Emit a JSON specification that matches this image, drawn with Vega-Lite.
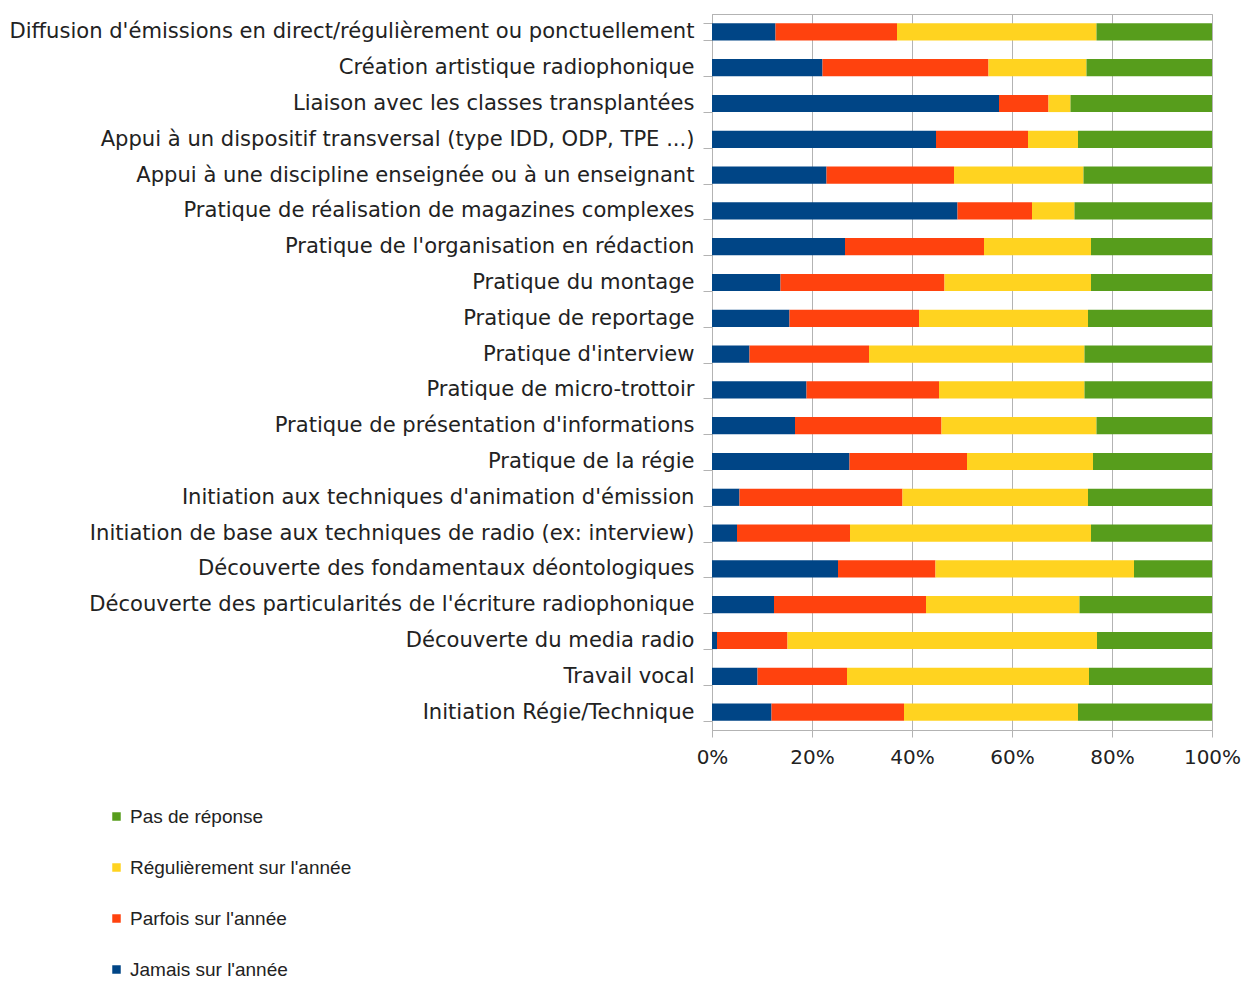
{
  "$schema": "https://vega.github.io/schema/vega-lite/v6.json",
  "autosize": {"type": "none"},
  "padding": {"left": 712, "top": 14, "right": 34, "bottom": 251},
  "width": 500,
  "height": 716,
  "background": "white",
  "config": {
    "view": {"stroke": "#b3b3b3", "strokeWidth": 1},
    "font": "DejaVu Sans"
  },
  "data": {
    "values": [
      {"activite": "Diffusion d'émissions en direct/régulièrement ou ponctuellement", "reponse": "Jamais sur l'année", "part": 12.7},
      {"activite": "Diffusion d'émissions en direct/régulièrement ou ponctuellement", "reponse": "Parfois sur l'année", "part": 24.3},
      {"activite": "Diffusion d'émissions en direct/régulièrement ou ponctuellement", "reponse": "Régulièrement sur l'année", "part": 39.9},
      {"activite": "Diffusion d'émissions en direct/régulièrement ou ponctuellement", "reponse": "Pas de réponse", "part": 23.1},
      {"activite": "Création artistique radiophonique", "reponse": "Jamais sur l'année", "part": 22.1},
      {"activite": "Création artistique radiophonique", "reponse": "Parfois sur l'année", "part": 33.2},
      {"activite": "Création artistique radiophonique", "reponse": "Régulièrement sur l'année", "part": 19.6},
      {"activite": "Création artistique radiophonique", "reponse": "Pas de réponse", "part": 25.1},
      {"activite": "Liaison avec les classes transplantées", "reponse": "Jamais sur l'année", "part": 57.4},
      {"activite": "Liaison avec les classes transplantées", "reponse": "Parfois sur l'année", "part": 9.9},
      {"activite": "Liaison avec les classes transplantées", "reponse": "Régulièrement sur l'année", "part": 4.4},
      {"activite": "Liaison avec les classes transplantées", "reponse": "Pas de réponse", "part": 28.3},
      {"activite": "Appui à un dispositif transversal (type IDD, ODP, TPE ...)", "reponse": "Jamais sur l'année", "part": 44.8},
      {"activite": "Appui à un dispositif transversal (type IDD, ODP, TPE ...)", "reponse": "Parfois sur l'année", "part": 18.4},
      {"activite": "Appui à un dispositif transversal (type IDD, ODP, TPE ...)", "reponse": "Régulièrement sur l'année", "part": 10.0},
      {"activite": "Appui à un dispositif transversal (type IDD, ODP, TPE ...)", "reponse": "Pas de réponse", "part": 26.8},
      {"activite": "Appui à une discipline enseignée ou à un enseignant", "reponse": "Jamais sur l'année", "part": 22.9},
      {"activite": "Appui à une discipline enseignée ou à un enseignant", "reponse": "Parfois sur l'année", "part": 25.5},
      {"activite": "Appui à une discipline enseignée ou à un enseignant", "reponse": "Régulièrement sur l'année", "part": 25.9},
      {"activite": "Appui à une discipline enseignée ou à un enseignant", "reponse": "Pas de réponse", "part": 25.7},
      {"activite": "Pratique de réalisation de magazines complexes", "reponse": "Jamais sur l'année", "part": 49.1},
      {"activite": "Pratique de réalisation de magazines complexes", "reponse": "Parfois sur l'année", "part": 14.9},
      {"activite": "Pratique de réalisation de magazines complexes", "reponse": "Régulièrement sur l'année", "part": 8.5},
      {"activite": "Pratique de réalisation de magazines complexes", "reponse": "Pas de réponse", "part": 27.5},
      {"activite": "Pratique de l'organisation en rédaction", "reponse": "Jamais sur l'année", "part": 26.6},
      {"activite": "Pratique de l'organisation en rédaction", "reponse": "Parfois sur l'année", "part": 27.8},
      {"activite": "Pratique de l'organisation en rédaction", "reponse": "Régulièrement sur l'année", "part": 21.4},
      {"activite": "Pratique de l'organisation en rédaction", "reponse": "Pas de réponse", "part": 24.2},
      {"activite": "Pratique du montage", "reponse": "Jamais sur l'année", "part": 13.7},
      {"activite": "Pratique du montage", "reponse": "Parfois sur l'année", "part": 32.8},
      {"activite": "Pratique du montage", "reponse": "Régulièrement sur l'année", "part": 29.3},
      {"activite": "Pratique du montage", "reponse": "Pas de réponse", "part": 24.2},
      {"activite": "Pratique de reportage", "reponse": "Jamais sur l'année", "part": 15.5},
      {"activite": "Pratique de reportage", "reponse": "Parfois sur l'année", "part": 25.9},
      {"activite": "Pratique de reportage", "reponse": "Régulièrement sur l'année", "part": 33.8},
      {"activite": "Pratique de reportage", "reponse": "Pas de réponse", "part": 24.8},
      {"activite": "Pratique d'interview", "reponse": "Jamais sur l'année", "part": 7.5},
      {"activite": "Pratique d'interview", "reponse": "Parfois sur l'année", "part": 23.9},
      {"activite": "Pratique d'interview", "reponse": "Régulièrement sur l'année", "part": 43.1},
      {"activite": "Pratique d'interview", "reponse": "Pas de réponse", "part": 25.5},
      {"activite": "Pratique de micro-trottoir", "reponse": "Jamais sur l'année", "part": 18.9},
      {"activite": "Pratique de micro-trottoir", "reponse": "Parfois sur l'année", "part": 26.5},
      {"activite": "Pratique de micro-trottoir", "reponse": "Régulièrement sur l'année", "part": 29.1},
      {"activite": "Pratique de micro-trottoir", "reponse": "Pas de réponse", "part": 25.5},
      {"activite": "Pratique de présentation d'informations", "reponse": "Jamais sur l'année", "part": 16.6},
      {"activite": "Pratique de présentation d'informations", "reponse": "Parfois sur l'année", "part": 29.3},
      {"activite": "Pratique de présentation d'informations", "reponse": "Régulièrement sur l'année", "part": 31.0},
      {"activite": "Pratique de présentation d'informations", "reponse": "Pas de réponse", "part": 23.1},
      {"activite": "Pratique de la régie", "reponse": "Jamais sur l'année", "part": 27.5},
      {"activite": "Pratique de la régie", "reponse": "Parfois sur l'année", "part": 23.5},
      {"activite": "Pratique de la régie", "reponse": "Régulièrement sur l'année", "part": 25.2},
      {"activite": "Pratique de la régie", "reponse": "Pas de réponse", "part": 23.8},
      {"activite": "Initiation aux techniques d'animation d'émission", "reponse": "Jamais sur l'année", "part": 5.5},
      {"activite": "Initiation aux techniques d'animation d'émission", "reponse": "Parfois sur l'année", "part": 32.6},
      {"activite": "Initiation aux techniques d'animation d'émission", "reponse": "Régulièrement sur l'année", "part": 37.1},
      {"activite": "Initiation aux techniques d'animation d'émission", "reponse": "Pas de réponse", "part": 24.8},
      {"activite": "Initiation de base aux techniques de radio (ex: interview)", "reponse": "Jamais sur l'année", "part": 5.0},
      {"activite": "Initiation de base aux techniques de radio (ex: interview)", "reponse": "Parfois sur l'année", "part": 22.6},
      {"activite": "Initiation de base aux techniques de radio (ex: interview)", "reponse": "Régulièrement sur l'année", "part": 48.2},
      {"activite": "Initiation de base aux techniques de radio (ex: interview)", "reponse": "Pas de réponse", "part": 24.2},
      {"activite": "Découverte des fondamentaux déontologiques", "reponse": "Jamais sur l'année", "part": 25.2},
      {"activite": "Découverte des fondamentaux déontologiques", "reponse": "Parfois sur l'année", "part": 19.5},
      {"activite": "Découverte des fondamentaux déontologiques", "reponse": "Régulièrement sur l'année", "part": 39.7},
      {"activite": "Découverte des fondamentaux déontologiques", "reponse": "Pas de réponse", "part": 15.6},
      {"activite": "Découverte des particularités de l'écriture radiophonique", "reponse": "Jamais sur l'année", "part": 12.4},
      {"activite": "Découverte des particularités de l'écriture radiophonique", "reponse": "Parfois sur l'année", "part": 30.4},
      {"activite": "Découverte des particularités de l'écriture radiophonique", "reponse": "Régulièrement sur l'année", "part": 30.7},
      {"activite": "Découverte des particularités de l'écriture radiophonique", "reponse": "Pas de réponse", "part": 26.5},
      {"activite": "Découverte du media radio", "reponse": "Jamais sur l'année", "part": 1.0},
      {"activite": "Découverte du media radio", "reponse": "Parfois sur l'année", "part": 14.1},
      {"activite": "Découverte du media radio", "reponse": "Régulièrement sur l'année", "part": 61.9},
      {"activite": "Découverte du media radio", "reponse": "Pas de réponse", "part": 23.0},
      {"activite": "Travail vocal", "reponse": "Jamais sur l'année", "part": 9.1},
      {"activite": "Travail vocal", "reponse": "Parfois sur l'année", "part": 17.9},
      {"activite": "Travail vocal", "reponse": "Régulièrement sur l'année", "part": 48.4},
      {"activite": "Travail vocal", "reponse": "Pas de réponse", "part": 24.6},
      {"activite": "Initiation Régie/Technique", "reponse": "Jamais sur l'année", "part": 11.9},
      {"activite": "Initiation Régie/Technique", "reponse": "Parfois sur l'année", "part": 26.5},
      {"activite": "Initiation Régie/Technique", "reponse": "Régulièrement sur l'année", "part": 34.8},
      {"activite": "Initiation Régie/Technique", "reponse": "Pas de réponse", "part": 26.8}
    ]
  },
  "transform": [
    {"calculate": "indexof([\"Jamais sur l'année\", \"Parfois sur l'année\", \"Régulièrement sur l'année\", \"Pas de réponse\"], datum.reponse)", "as": "rang"}
  ],
  "mark": {"type": "bar"},
  "encoding": {
    "y": {
      "field": "activite",
      "type": "nominal",
      "sort": null,
      "title": null,
      "scale": {"paddingInner": 0.52, "paddingOuter": 0.26},
      "axis": {
        "labelFont": "DejaVu Sans",
        "labelFontSize": 21.1,
        "labelColor": "#222222",
        "labelPadding": 9,
        "labelLimit": 800,
        "tickSize": 9,
        "tickColor": "#b3b3b3",
        "tickBand": "extent",
        "domainColor": "#b3b3b3",
        "grid": false
      }
    },
    "x": {
      "field": "part",
      "type": "quantitative",
      "stack": "normalize",
      "title": null,
      "scale": {"domain": [0, 1], "nice": false},
      "axis": {
        "values": [0, 0.2, 0.4, 0.6, 0.8, 1],
        "format": ".0%",
        "labelFont": "DejaVu Sans",
        "labelFontSize": 20,
        "labelColor": "#222222",
        "labelPadding": 10,
        "labelFlush": false,
        "tickSize": 7,
        "tickColor": "#b3b3b3",
        "domainColor": "#b3b3b3",
        "grid": true,
        "gridColor": "#b3b3b3"
      }
    },
    "color": {
      "field": "reponse",
      "type": "nominal",
      "title": null,
      "scale": {
        "domain": ["Pas de réponse", "Régulièrement sur l'année", "Parfois sur l'année", "Jamais sur l'année"],
        "range": ["#579d1c", "#ffd320", "#ff420e", "#004586"]
      },
      "legend": {
        "orient": "none",
        "legendX": -605,
        "legendY": 793,
        "direction": "vertical",
        "symbolType": "square",
        "symbolSize": 72,
        "symbolStrokeWidth": 0,
        "labelFont": "Liberation Sans",
        "labelFontSize": 19,
        "labelColor": "#222222",
        "labelOffset": 4,
        "rowPadding": 31,
        "labelLimit": 400
      }
    },
    "order": {"field": "rang", "type": "quantitative", "sort": "ascending"}
  }
}
